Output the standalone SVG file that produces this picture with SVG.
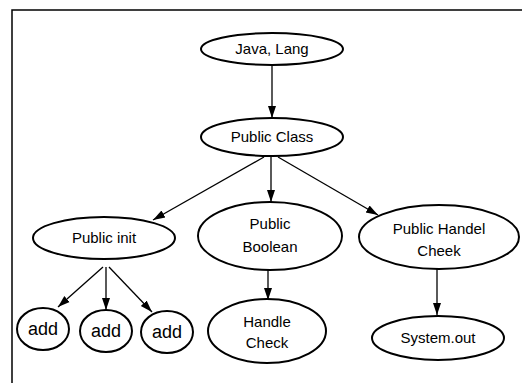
<svg xmlns="http://www.w3.org/2000/svg" width="522" height="385" viewBox="0 0 522 385">
<defs>
<marker id="ah" viewBox="0 0 12 10" refX="12" refY="5" markerWidth="12" markerHeight="10" markerUnits="userSpaceOnUse" orient="auto">
<path d="M0,1 L12,5 L0,9 Z" fill="#000"/>
</marker>
<style>
.n{fill:#fff;stroke:#000;stroke-width:2}
.t{font-family:"Liberation Sans",Arial,sans-serif;font-size:15px;fill:#000;text-anchor:middle}
.a{font-size:18px}
.e{stroke:#000;stroke-width:1.3;fill:none;marker-end:url(#ah)}
</style>
</defs>
<rect width="522" height="385" fill="#fff"/>
<g id="frame" stroke="#000" stroke-width="1.5" fill="none">
<path d="M12,383 L12,10 L522,10"/>
</g>
<g id="connectors">
<line class="e" x1="272" y1="65" x2="272" y2="118"/>
<line class="e" x1="264" y1="157" x2="153" y2="220"/>
<line class="e" x1="271" y1="157" x2="271" y2="202"/>
<line class="e" x1="278" y1="157" x2="378" y2="215"/>
<line class="e" x1="268" y1="270" x2="268" y2="300"/>
<line class="e" x1="437" y1="269" x2="437" y2="315"/>
<line class="e" x1="103" y1="267" x2="58" y2="307"/>
<line class="e" x1="106" y1="267" x2="106" y2="310"/>
<line class="e" x1="109" y1="267" x2="152" y2="312"/>
</g>
<g id="java-lang">
<ellipse class="n" cx="272" cy="49" rx="71" ry="16"/>
<text class="t" x="272" y="54">Java, Lang</text>
</g>
<g id="public-class">
<ellipse class="n" cx="272" cy="137" rx="71" ry="19"/>
<text class="t" x="272" y="142">Public Class</text>
</g>
<g id="public-init">
<ellipse class="n" cx="104" cy="238" rx="71" ry="21"/>
<text class="t" x="104" y="243">Public init</text>
</g>
<g id="public-boolean">
<ellipse class="n" cx="270" cy="236" rx="72" ry="34"/>
<text class="t" x="270" y="229">Public</text>
<text class="t" x="270" y="252">Boolean</text>
</g>
<g id="public-handel-cheek">
<ellipse class="n" cx="439" cy="237" rx="80" ry="32"/>
<text class="t" x="439" y="234">Public Handel</text>
<text class="t" x="439" y="256">Cheek</text>
</g>
<g id="add1">
<ellipse class="n" cx="43" cy="329" rx="26" ry="21"/>
<text class="t a" x="43" y="335">add</text>
</g>
<g id="add2">
<ellipse class="n" cx="106" cy="331" rx="26" ry="21"/>
<text class="t a" x="106" y="337">add</text>
</g>
<g id="add3">
<ellipse class="n" cx="167" cy="332" rx="26" ry="21"/>
<text class="t a" x="167" y="338">add</text>
</g>
<g id="handle-check">
<ellipse class="n" cx="267" cy="331" rx="59" ry="32"/>
<text class="t" x="267" y="327">Handle</text>
<text class="t" x="267" y="348">Check</text>
</g>
<g id="system-out">
<ellipse class="n" cx="438" cy="338" rx="66" ry="22"/>
<text class="t" x="438" y="343">System.out</text>
</g>
</svg>
